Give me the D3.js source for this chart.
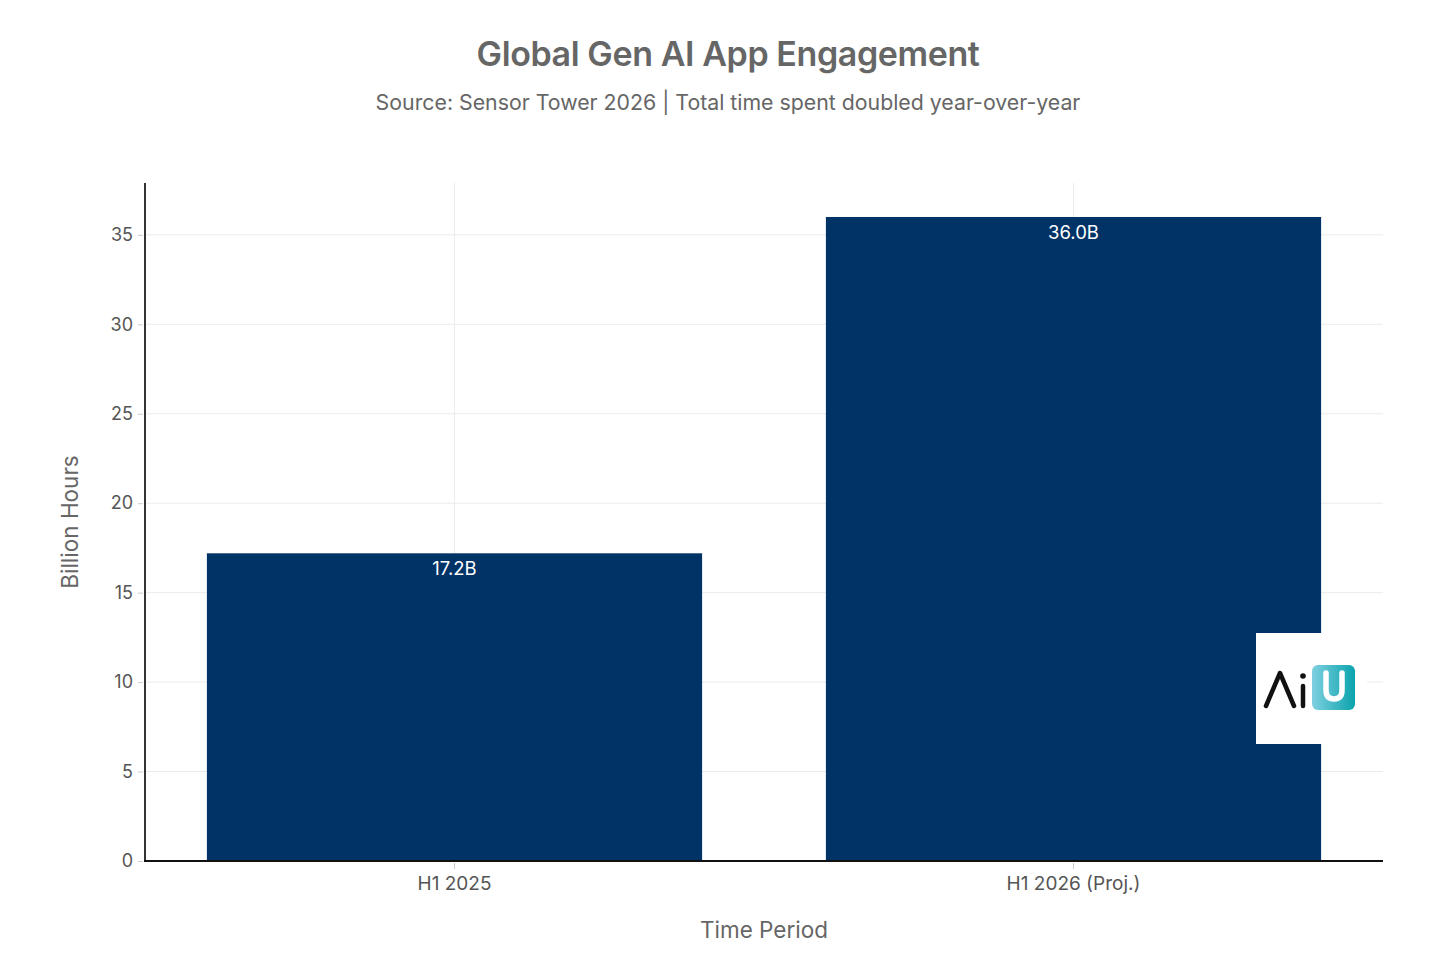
<!DOCTYPE html>
<html>
<head>
<meta charset="utf-8">
<script src="https://cdn.jsdelivr.net/npm/d3@7"></script>
<style>
  body { margin: 0; background: #fff; }
  text { font-family: Inter, "Liberation Sans", Arial, sans-serif; }
</style>
</head>
<body>
<div id="wrapper"></div>
<script>
// data
const periods = ["H1 2025", "H1 2026 (Proj.)"]
const hours = [17.2, 36.0]
const barLabels = ["17.2B", "36.0B"]
const yTicks = [0, 5, 10, 15, 20, 25, 30, 35]

const dimensions = {
  width: 1456,
  height: 971,
  margin: { top: 183, right: 73, bottom: 110, left: 145 },
}
dimensions.boundedWidth = dimensions.width - dimensions.margin.left - dimensions.margin.right
dimensions.boundedHeight = dimensions.height - dimensions.margin.top - dimensions.margin.bottom

const svg = d3.select("#wrapper").append("svg")
    .attr("width", dimensions.width)
    .attr("height", dimensions.height)

const bounds = svg.append("g")
    .attr("transform", `translate(${dimensions.margin.left},${dimensions.margin.top})`)

// scales
const xScale = d3.scaleBand()
  .domain(periods)
  .range([0, dimensions.boundedWidth])
  .paddingInner(0.2)
  .paddingOuter(0.1)

const yScale = d3.scaleLinear()
  .domain([0, 37.9])
  .range([dimensions.boundedHeight, 0])

// grid
bounds.append("g")
  .selectAll("line.hgrid")
  .data(yTicks.slice(1))
  .join("line")
    .attr("x1", 0).attr("x2", dimensions.boundedWidth)
    .attr("y1", d => yScale(d)).attr("y2", d => yScale(d))
    .attr("stroke", "#ebebeb").attr("stroke-width", 1)

bounds.append("g")
  .selectAll("line.vgrid")
  .data(periods)
  .join("line")
    .attr("x1", d => xScale(d) + xScale.bandwidth() / 2)
    .attr("x2", d => xScale(d) + xScale.bandwidth() / 2)
    .attr("y1", 0).attr("y2", dimensions.boundedHeight)
    .attr("stroke", "#ebebeb").attr("stroke-width", 1)

// bars
bounds.selectAll("rect.bar")
  .data(periods)
  .join("rect")
    .attr("class", "bar")
    .attr("x", d => xScale(d))
    .attr("width", xScale.bandwidth())
    .attr("y", (d, i) => yScale(hours[i]))
    .attr("height", (d, i) => dimensions.boundedHeight - yScale(hours[i]))
    .attr("fill", "#013366")

bounds.selectAll("text.bar-label")
  .data(periods)
  .join("text")
    .attr("x", d => xScale(d) + xScale.bandwidth() / 2)
    .attr("y", (d, i) => yScale(hours[i]) + 22)
    .attr("text-anchor", "middle")
    .attr("fill", "#fff")
    .style("font-size", "18.5px")
    .text((d, i) => barLabels[i])

// axes
const yAxis = bounds.append("g")
  .call(d3.axisLeft(yScale).tickValues(yTicks).tickSize(5).tickPadding(6))
yAxis.select(".domain").remove()
yAxis.selectAll(".tick line").attr("stroke", "#ccc").attr("transform", "translate(-2,0)")
yAxis.selectAll(".tick text").attr("fill", "#555").style("font-size", "18px")
  .attr("x", -12)

const xAxis = bounds.append("g")
  .attr("transform", `translate(0,${dimensions.boundedHeight})`)
  .call(d3.axisBottom(xScale).tickSize(6).tickPadding(10))
xAxis.select(".domain").remove()
xAxis.selectAll(".tick line").attr("stroke", "#ccc").attr("transform", "translate(0,2)")
xAxis.selectAll(".tick text").attr("fill", "#555").style("font-size", "19px")

bounds.append("line")
  .attr("x1", 0).attr("x2", 0).attr("y1", 0).attr("y2", dimensions.boundedHeight)
  .attr("stroke", "#333").attr("stroke-width", 2)
bounds.append("line")
  .attr("x1", -1).attr("x2", dimensions.boundedWidth)
  .attr("y1", dimensions.boundedHeight).attr("y2", dimensions.boundedHeight)
  .attr("stroke", "#111").attr("stroke-width", 2)

// axis titles
svg.append("text")
  .attr("x", dimensions.margin.left + dimensions.boundedWidth / 2)
  .attr("y", 938)
  .attr("text-anchor", "middle")
  .attr("fill", "#666")
  .style("font-size", "22.5px")
  .text("Time Period")

svg.append("text")
  .attr("transform", `translate(78,${dimensions.margin.top + dimensions.boundedHeight / 2}) rotate(-90)`)
  .attr("text-anchor", "middle")
  .attr("fill", "#666")
  .style("font-size", "22.5px")
  .text("Billion Hours")

// titles
svg.append("text")
  .attr("x", 728).attr("y", 66)
  .attr("text-anchor", "middle")
  .attr("fill", "#666")
  .style("font-size", "34px")
  .style("font-weight", "600")
  .style("letter-spacing", "-0.4px")
  .text("Global Gen AI App Engagement")

svg.append("text")
  .attr("x", 728).attr("y", 110)
  .attr("text-anchor", "middle")
  .attr("fill", "#666")
  .style("font-size", "21.3px")
  .text("Source: Sensor Tower 2026 | Total time spent doubled year-over-year")

// logo
const defs = svg.append("defs")
const grad = defs.append("linearGradient").attr("id", "ugrad")
  .attr("x1", "0%").attr("x2", "100%").attr("y1", "0%").attr("y2", "0%")
grad.append("stop").attr("offset", "0%").attr("stop-color", "#7fd0e0")
grad.append("stop").attr("offset", "100%").attr("stop-color", "#0aa3ad")

const logo = svg.append("g").attr("transform", "translate(1256,633)")
logo.append("rect").attr("width", 111).attr("height", 111).attr("fill", "#fff")
logo.append("path")
  .attr("d", "M10,73 L24,40 L38,73")
  .attr("fill", "none").attr("stroke", "#111").attr("stroke-width", 4.5)
  .attr("stroke-linecap", "round").attr("stroke-linejoin", "round")
logo.append("line").attr("x1", 47).attr("x2", 47).attr("y1", 53).attr("y2", 73)
  .attr("stroke", "#111").attr("stroke-width", 4.5).attr("stroke-linecap", "round")
logo.append("circle").attr("cx", 47).attr("cy", 43).attr("r", 2.8).attr("fill", "#111")
logo.append("rect").attr("x", 56).attr("y", 32).attr("width", 43).attr("height", 45)
  .attr("rx", 6).attr("fill", "url(#ugrad)")
logo.append("path")
  .attr("d", "M70,40 L70,57 Q70,66 78,66 Q86,66 86,57 L86,40")
  .attr("fill", "none").attr("stroke", "#fff").attr("stroke-width", 5.5)
  .attr("stroke-linecap", "round")
</script>
</body>
</html>
